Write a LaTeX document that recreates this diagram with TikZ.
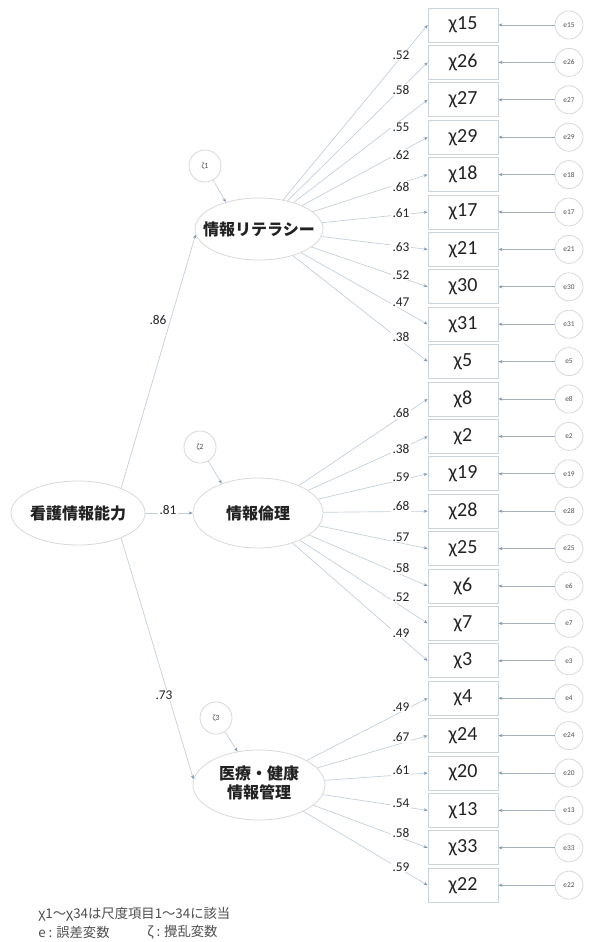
\documentclass[tikz,border=0pt]{standalone}
\usepackage{fontspec}
\setmainfont{Carlito}
\newfontfamily\jp{Noto Sans CJK JP}
\usetikzlibrary{arrows.meta,shapes.geometric}
\definecolor{lineC}{HTML}{C2CEDA}
\definecolor{errC}{HTML}{A4B0BC}
\definecolor{boxC}{HTML}{CCD3DA}
\definecolor{circC}{HTML}{D8D8D8}
\definecolor{tipC}{HTML}{7C98B8}
\definecolor{txtC}{HTML}{222222}
\tikzset{
  obs/.style={draw=boxC, line width=0.6pt, minimum width=52.5pt, minimum height=25.5pt, inner sep=0pt, font=\fontsize{15}{18}\selectfont, text=txtC},
  errc/.style={circle, draw=circC, line width=0.6pt, minimum size=21pt, inner sep=0pt, font=\fontsize{5.5}{6}\selectfont, text=txtC!80},
  dist/.style={circle, draw=circC, line width=0.6pt, minimum size=24pt, inner sep=0pt, font=\fontsize{6}{7}\selectfont, text=txtC!80},
  lat/.style={ellipse, draw=circC, line width=0.6pt, inner sep=0pt, font=\jp\bfseries\fontsize{12}{14.4}\selectfont, text=txtC},
  load/.style={-{Stealth[length=3pt,width=2.4pt,color=tipC]}, draw=lineC, line width=0.5pt},
  errarr/.style={-{Stealth[length=3pt,width=2.4pt,color=tipC]}, draw=errC, line width=0.5pt},
  coef/.style={fill=white, inner sep=0.8pt, font=\fontsize{10}{11}\selectfont, text=txtC},
  legend/.style={anchor=west, inner sep=0pt, font=\jp\fontsize{10}{11}\selectfont, text=txtC!80},
}
\begin{document}
\begin{tikzpicture}[x=0.75pt,y=-0.75pt]
\useasboundingbox (0,0) rectangle (593,942);
% observed variables and errors
\foreach \n [count=\i from 0] in {15,26,27,29,18,17,21,30,31,5,8,2,19,28,25,6,7,3,4,24,20,13,33,22} {
  \node[obs] (x\n) at (463,{25+37.4*\i}) {χ\n};
  \node[errc] (e\n) at (569,{25+37.4*\i}) {e\n};
  \draw[errarr] (e\n) -- (x\n.east);
}
% latent variables
\node[lat, minimum width=100.5pt, minimum height=48pt] (kango) at (78,513) {\makebox[0pt]{看護情報能力}};
\node[lat, minimum width=96pt, minimum height=46.5pt] (lit) at (259,229) {\makebox[0pt]{情報リテラシー}};
\node[lat, minimum width=97.5pt, minimum height=52.5pt] (eth) at (258,513) {\makebox[0pt]{情報倫理}};
\node[lat, minimum width=99pt, minimum height=52.5pt] (med) at (259,785) {\makebox[0pt]{\begin{tabular}{@{}c@{}}医療・健康\\情報管理\end{tabular}}};
% disturbances
\node[dist] (z1) at (205,166) {ζ1};
\node[dist] (z2) at (200,447) {ζ2};
\node[dist] (z3) at (216,718) {ζ3};
\draw[load] (z1) -- (lit.141);
\draw[load] (z2) -- (eth.141);
\draw[load] (z3) -- (med);
% second-order paths
\draw[load] (kango.30) -- (lit.185);
\draw[load] (kango.east) -- (eth.west);
\draw[load] (kango.-30) -- (med.175);
\node[coef] at (158,320) {.86};
\node[coef] at (168,510) {.81};
\node[coef] at (164,695) {.73};
% loadings
\foreach \n/\v/\ly in {15/.52/55, 26/.58/90, 27/.55/127, 29/.62/155, 18/.68/187, 17/.61/213, 21/.63/247, 30/.52/275, 31/.47/302, 5/.38/337} {
  \draw[load] (lit) -- (x\n.west);
  \node[coef] at (401,\ly) {\v};
}
\foreach \n/\v/\ly in {8/.68/413, 2/.38/449, 19/.59/477, 28/.68/506, 25/.57/537, 6/.58/568, 7/.52/597, 3/.49/633} {
  \draw[load] (eth) -- (x\n.west);
  \node[coef] at (401,\ly) {\v};
}
\foreach \n/\v/\ly in {4/.49/707, 24/.67/737, 20/.61/770, 13/.54/803, 33/.58/833, 22/.59/867} {
  \draw[load] (med) -- (x\n.west);
  \node[coef] at (401,\ly) {\v};
}
% legend
\node[legend] (leg1) at (38,914) {χ1～χ34は尺度項目1～34に該当};
\node[legend] (leg2) at (38,932) {e : 誤差変数};
\node[legend] (leg3) at (147,932) {ζ : 攪乱変数};
\end{tikzpicture}
\end{document}
